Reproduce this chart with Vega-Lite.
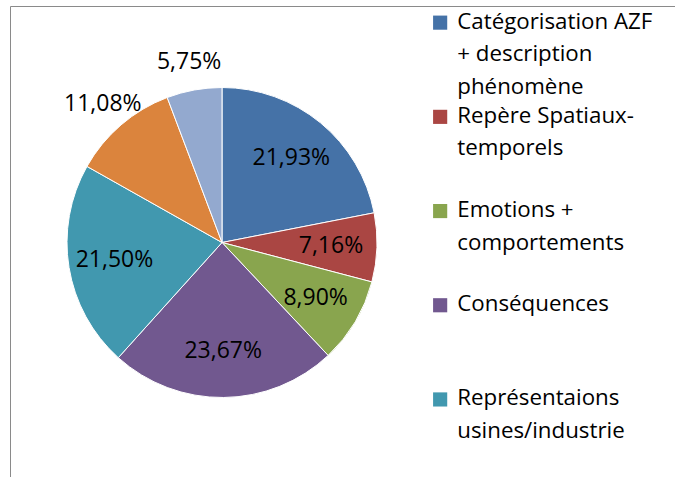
{
  "$schema": "https://vega.github.io/schema/vega-lite/v6.json",
  "autosize": "none",
  "padding": {"left": 0, "top": 8, "right": 231, "bottom": 0},
  "width": 444,
  "height": 469,
  "background": "white",
  "data": {
    "values": [
      {"idx": 1, "cat": "Catégorisation AZF|+ description|phénomène", "share": 0.2193},
      {"idx": 2, "cat": "Repère Spatiaux-|temporels", "share": 0.0716},
      {"idx": 3, "cat": "Emotions +|comportements", "share": 0.0890},
      {"idx": 4, "cat": "Conséquences", "share": 0.2367},
      {"idx": 5, "cat": "Représentaions|usines/industrie", "share": 0.2150},
      {"idx": 6, "cat": "Responsabilités", "share": 0.1108},
      {"idx": 7, "cat": "Autres thématiques évoquées", "share": 0.0575}
    ]
  },
  "encoding": {
    "theta": {"field": "share", "type": "quantitative", "stack": true},
    "order": {"field": "idx", "type": "quantitative"}
  },
  "layer": [
    {
      "mark": {"type": "arc", "outerRadius": 155, "stroke": "white", "strokeWidth": 1},
      "encoding": {
        "color": {
          "field": "cat",
          "type": "nominal",
          "scale": {
            "domain": [
              "Catégorisation AZF|+ description|phénomène",
              "Repère Spatiaux-|temporels",
              "Emotions +|comportements",
              "Conséquences",
              "Représentaions|usines/industrie",
              "Responsabilités",
              "Autres thématiques évoquées"
            ],
            "range": ["#4572A7", "#AA4643", "#89A54E", "#71588F", "#4198AF", "#DB843D", "#93A9CF"]
          },
          "legend": {
            "title": null,
            "orient": "none",
            "legendX": 10,
            "legendY": -2,
            "padding": 5.5,
            "symbolOffset": 413.5,
            "labelOffset": 6,
            "strokeColor": "#8a8a8a",
            "fillColor": null,
            "rowPadding": 6.2,
            "gridAlign": "all",
            "labelLimit": 400,
            "symbolType": "square",
            "symbolSize": 200,
            "symbolStrokeWidth": 0,
            "labelFont": "Open Sans",
            "labelFontSize": 22.3,
            "labelColor": "#000000",
            "labelBaseline": "alphabetic",
            "labelExpr": "split(datum.label, '|')"
          }
        }
      }
    },
    {
      "mark": {"type": "text", "radius": 109, "font": "Open Sans", "fontSize": 23, "color": "#000000"},
      "encoding": {
        "text": {"field": "share", "type": "quantitative", "format": ".2%"},
        "opacity": {"condition": {"test": "datum.idx <= 5", "value": 1}, "value": 0}
      }
    },
    {
      "mark": {"type": "text", "radius": 183, "font": "Open Sans", "fontSize": 23, "color": "#000000"},
      "encoding": {
        "text": {"field": "share", "type": "quantitative", "format": ".2%"},
        "opacity": {"condition": {"test": "datum.idx >= 6", "value": 1}, "value": 0}
      }
    }
  ],
  "config": {
    "view": {"stroke": null},
    "locale": {"number": {"decimal": ",", "thousands": " ", "grouping": [3], "currency": ["", " €"]}},
    "style": {"guide-label": {"dy": 6, "lineHeight": 32.5}}
  }
}
